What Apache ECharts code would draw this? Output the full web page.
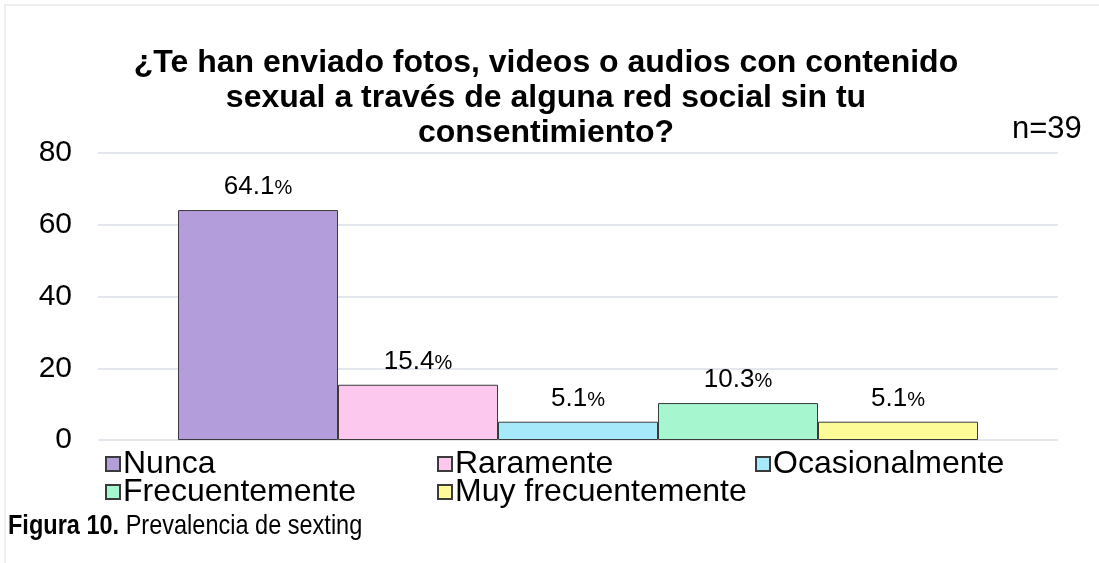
<!DOCTYPE html>
<html>
<head>
<meta charset="utf-8">
<script src="https://cdn.jsdelivr.net/npm/echarts@6/dist/echarts.min.js"></script>
<style>
  html, body { margin: 0; padding: 0; background: #fff; }
  #chart { width: 1099px; height: 563px; }
</style>
</head>
<body>
<div id="chart"></div>
<script>
const categories = ['Nunca', 'Raramente', 'Ocasionalmente', 'Frecuentemente', 'Muy frecuentemente'];
const values = [64.1, 15.4, 5.1, 10.3, 5.1];
const colors = ['#b39ddb', '#fcc8ee', '#a6e9fb', '#a6f6cf', '#fdfa98'];
const yTicks = [0, 20, 40, 60, 80];
const titleText = '¿Te han enviado fotos, videos o audios con contenido\nsexual a través de alguna red social sin tu\nconsentimiento?';

const FONT = '"Liberation Sans", Arial, sans-serif';

const series = categories.map((name, i) => ({
  name: name,
  type: 'bar',
  data: [values[i]],
  barWidth: 160,
  barGap: '0%',
  itemStyle: { color: colors[i], borderColor: '#3a3a3a', borderWidth: 1 },
  label: {
    show: true,
    position: 'top',
    distance: 10,
    formatter: (p) => '{a|' + p.value.toFixed(1) + '}{b|%}',
    rich: {
      a: { fontSize: 26, color: '#000', fontFamily: FONT },
      b: { fontSize: 20, color: '#000', fontFamily: FONT, padding: [3, 0, 0, 0] }
    }
  }
}));

const legendText = { fontSize: 32, color: '#000', fontFamily: FONT, lineHeight: 28, padding: [0, 0, 0, -2] };
function mkLegend(data, left) {
  return {
    data: data,
    orient: 'vertical',
    left: left,
    top: 448,
    itemWidth: 14,
    itemHeight: 14,
    itemGap: -4,
    icon: 'rect',
    padding: 0,
    textStyle: legendText,
    selectedMode: false
  };
}

const chart = echarts.init(document.getElementById('chart'));
chart.setOption({
  animation: false,
  backgroundColor: '#fff',
  title: {
    text: titleText,
    left: 546,
    textAlign: 'center',
    top: 46,
    padding: 0,
    textStyle: { fontSize: 32, fontWeight: 'bold', color: '#000', fontFamily: FONT, lineHeight: 35 }
  },
  legend: [
    mkLegend(['Nunca', 'Frecuentemente'], 105),
    mkLegend(['Raramente', 'Muy frecuentemente'], 437),
    mkLegend(['Ocasionalmente'], 755)
  ],
  grid: { left: 98, right: 41, top: 153, bottom: 123, containLabel: false },
  xAxis: {
    type: 'category',
    data: [''],
    axisLine: { show: false },
    axisTick: { show: false },
    axisLabel: { show: false }
  },
  yAxis: {
    type: 'value',
    min: yTicks[0],
    max: yTicks[yTicks.length - 1],
    interval: 20,
    axisLine: { show: false },
    axisTick: { show: false },
    axisLabel: { fontSize: 30, color: '#000', fontFamily: FONT, margin: 26 },
    splitLine: { lineStyle: { color: '#e3e7ed', width: 2 } }
  },
  graphic: [
    {
      type: 'rect',
      shape: { x: 5, y: 5, width: 1200, height: 1000 },
      style: { fill: 'none', stroke: '#eeeeee', lineWidth: 2 },
      silent: true
    },
    {
      type: 'text',
      left: 1012,
      top: 114,
      style: { text: 'n=39', fontSize: 31, fill: '#000', fontFamily: FONT }
    },
    {
      type: 'text',
      x: 8,
      y: 512,
      scaleX: 0.84,
      style: {
        text: '{b|Figura 10.}{n| Prevalencia de sexting}',
        rich: {
          b: { fontSize: 28, fontWeight: 'bold', fill: '#000', fontFamily: FONT },
          n: { fontSize: 28, fill: '#000', fontFamily: FONT }
        }
      }
    }
  ],
  series: series
});
</script>
</body>
</html>
